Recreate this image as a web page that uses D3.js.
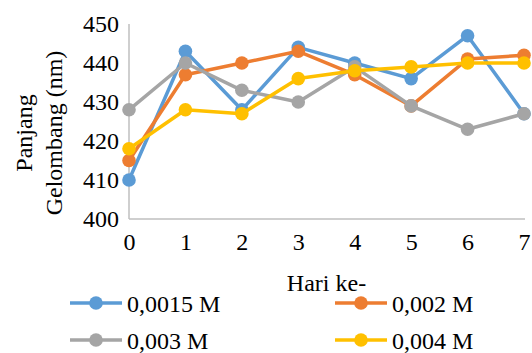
<!DOCTYPE html>
<html>
<head>
<meta charset="utf-8">
<script src="https://cdn.jsdelivr.net/npm/d3@7/dist/d3.min.js"></script>
</head>
<body style="margin:0;background:#fff">
<div id="chart"></div>
<script>
// Days of observation
const days = [0, 1, 2, 3, 4, 5, 6, 7];
// Wavelength (nm) per concentration
const s0015 = [410, 443, 428, 444, 440, 436, 447, 427];
const s002  = [415, 437, 440, 443, 437, 429, 441, 442];
const s003  = [428, 440, 433, 430, 439, 429, 423, 427];
const s004  = [418, 428, 427, 436, 438, 439, 440, 440];
const seriesNames = ["0,0015 M", "0,002 M", "0,003 M", "0,004 M"];
const seriesColors = ["#5B9BD5", "#ED7D31", "#A5A5A5", "#FFC000"];
const yTicks = [400, 410, 420, 430, 440, 450];

const FONT = "'Liberation Serif', 'Times New Roman', Times, serif";

const series = [s0015, s002, s003, s004].map((vals, i) => ({
  name: seriesNames[i], color: seriesColors[i], values: vals
}));

const svg = d3.select("#chart").append("svg")
  .attr("width", 532).attr("height", 353)
  .style("display", "block");
const x = d3.scaleLinear().domain([0, 7]).range([129, 524]);
const y = d3.scaleLinear().domain([400, 450]).range([219, 24]);

function label(sel) {
  return sel.style("font-family", FONT).style("font-size", "24px").style("fill", "#000");
}

// Axes lines (no tick marks)
svg.append("line").attr("x1", x(0)).attr("x2", x(0)).attr("y1", y(450)).attr("y2", y(400))
  .attr("stroke", "#BFBFBF").attr("stroke-width", 1.5);
svg.append("line").attr("x1", x(0)).attr("x2", x(7) + 1).attr("y1", y(400)).attr("y2", y(400))
  .attr("stroke", "#BFBFBF").attr("stroke-width", 1.5);

const yAxis = d3.axisLeft(y).tickValues(yTicks).tickSize(0).tickPadding(10);
const gy = svg.append("g").attr("transform", `translate(${x(0)},0)`).call(yAxis);
gy.select(".domain").remove();
label(gy.selectAll("text"));

const xAxis = d3.axisBottom(x).tickValues(days).tickFormat(d3.format("d")).tickSize(0).tickPadding(14);
const gx = svg.append("g").attr("transform", `translate(0,${y(400)})`).call(xAxis);
gx.select(".domain").remove();
label(gx.selectAll("text"));

// Series lines and markers
const line = d3.line().x((d, i) => x(days[i])).y(d => y(d));
series.forEach(s => {
  const g = svg.append("g");
  g.append("path").attr("d", line(s.values)).attr("fill", "none")
    .attr("stroke", s.color).attr("stroke-width", 3.5).attr("stroke-linejoin", "round");
  g.selectAll("circle").data(s.values).join("circle")
    .attr("cx", (d, i) => x(days[i])).attr("cy", d => y(d)).attr("r", 6.8)
    .attr("fill", s.color);
});

// Axis titles
label(svg.append("text").attr("x", (x(0) + x(7)) / 2).attr("y", 291)
  .attr("text-anchor", "middle").text("Hari ke-"));

const yTitle = svg.append("g").attr("transform", "translate(0,133) rotate(-90)");
label(yTitle.append("text").attr("x", 0).attr("y", 32).attr("text-anchor", "middle").text("Panjang"));
label(yTitle.append("text").attr("x", 0).attr("y", 62).attr("text-anchor", "middle").text("Gelombang (nm)"));

// Legend: two columns, two rows
const legendPos = [[70, 303], [335, 303], [70, 340], [335, 340]];
series.forEach((s, i) => {
  const [lx, ly] = legendPos[i];
  const g = svg.append("g").attr("transform", `translate(${lx},${ly})`);
  g.append("line").attr("x1", 0).attr("x2", 52).attr("y1", 0).attr("y2", 0)
    .attr("stroke", s.color).attr("stroke-width", 3.5);
  g.append("circle").attr("cx", 26).attr("cy", 0).attr("r", 6.8).attr("fill", s.color);
  label(g.append("text").attr("x", 57).attr("y", 9).text(s.name));
});
</script>
</body>
</html>
